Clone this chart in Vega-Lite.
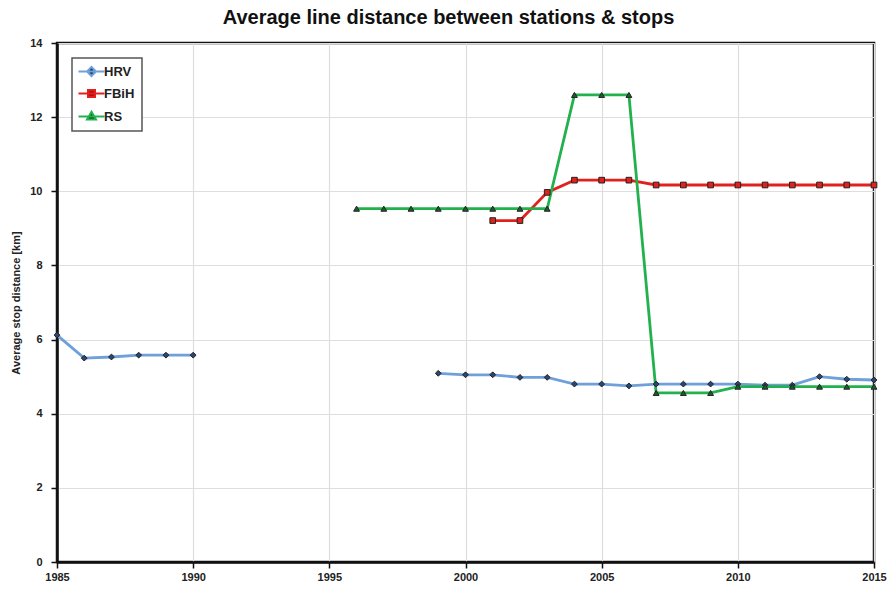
{
  "$schema": "https://vega.github.io/schema/vega-lite/v6.json",
  "width": 817,
  "height": 519,
  "autosize": {"type": "none"},
  "padding": {"left": 57, "top": 43, "right": 19, "bottom": 28},
  "background": "white",
  "title": {
    "text": "Average line distance between stations & stops",
    "font": "Liberation Sans",
    "fontSize": 20,
    "fontWeight": "bold",
    "color": "#111",
    "offset": 9,
    "anchor": "middle",
    "frame": "bounds"
  },
  "config": {
    "view": {"stroke": "#111", "strokeWidth": 2.5},
    "axis": {
      "labelFont": "Liberation Sans",
      "labelFontWeight": "bold",
      "labelFontSize": 11,
      "labelColor": "#222",
      "labelFlush": false,
      "titleFont": "Liberation Sans",
      "titleFontWeight": "bold",
      "titleFontSize": 11,
      "titleColor": "#222",
      "domainColor": "#111",
      "domainWidth": 2.5,
      "tickColor": "#111",
      "tickSize": 6,
      "tickWidth": 1.5,
      "gridColor": "#dedede",
      "gridWidth": 1.2
    }
  },
  "data": {
    "values": [
      {"year": 1985, "series": "HRV", "seg": "a", "value": 6.12},
      {"year": 1986, "series": "HRV", "seg": "a", "value": 5.5},
      {"year": 1987, "series": "HRV", "seg": "a", "value": 5.53},
      {"year": 1988, "series": "HRV", "seg": "a", "value": 5.58},
      {"year": 1989, "series": "HRV", "seg": "a", "value": 5.58},
      {"year": 1990, "series": "HRV", "seg": "a", "value": 5.58},
      {"year": 1999, "series": "HRV", "seg": "b", "value": 5.09},
      {"year": 2000, "series": "HRV", "seg": "b", "value": 5.05},
      {"year": 2001, "series": "HRV", "seg": "b", "value": 5.05},
      {"year": 2002, "series": "HRV", "seg": "b", "value": 4.98},
      {"year": 2003, "series": "HRV", "seg": "b", "value": 4.98},
      {"year": 2004, "series": "HRV", "seg": "b", "value": 4.8},
      {"year": 2005, "series": "HRV", "seg": "b", "value": 4.8},
      {"year": 2006, "series": "HRV", "seg": "b", "value": 4.75},
      {"year": 2007, "series": "HRV", "seg": "b", "value": 4.8},
      {"year": 2008, "series": "HRV", "seg": "b", "value": 4.8},
      {"year": 2009, "series": "HRV", "seg": "b", "value": 4.8},
      {"year": 2010, "series": "HRV", "seg": "b", "value": 4.8},
      {"year": 2011, "series": "HRV", "seg": "b", "value": 4.77},
      {"year": 2012, "series": "HRV", "seg": "b", "value": 4.77},
      {"year": 2013, "series": "HRV", "seg": "b", "value": 5.0},
      {"year": 2014, "series": "HRV", "seg": "b", "value": 4.93},
      {"year": 2015, "series": "HRV", "seg": "b", "value": 4.91},
      {"year": 2001, "series": "FBiH", "seg": "a", "value": 9.21},
      {"year": 2002, "series": "FBiH", "seg": "a", "value": 9.21},
      {"year": 2003, "series": "FBiH", "seg": "a", "value": 9.97},
      {"year": 2004, "series": "FBiH", "seg": "a", "value": 10.3},
      {"year": 2005, "series": "FBiH", "seg": "a", "value": 10.3},
      {"year": 2006, "series": "FBiH", "seg": "a", "value": 10.3},
      {"year": 2007, "series": "FBiH", "seg": "a", "value": 10.17},
      {"year": 2008, "series": "FBiH", "seg": "a", "value": 10.17},
      {"year": 2009, "series": "FBiH", "seg": "a", "value": 10.17},
      {"year": 2010, "series": "FBiH", "seg": "a", "value": 10.17},
      {"year": 2011, "series": "FBiH", "seg": "a", "value": 10.17},
      {"year": 2012, "series": "FBiH", "seg": "a", "value": 10.17},
      {"year": 2013, "series": "FBiH", "seg": "a", "value": 10.17},
      {"year": 2014, "series": "FBiH", "seg": "a", "value": 10.17},
      {"year": 2015, "series": "FBiH", "seg": "a", "value": 10.17},
      {"year": 1996, "series": "RS", "seg": "a", "value": 9.53},
      {"year": 1997, "series": "RS", "seg": "a", "value": 9.53},
      {"year": 1998, "series": "RS", "seg": "a", "value": 9.53},
      {"year": 1999, "series": "RS", "seg": "a", "value": 9.53},
      {"year": 2000, "series": "RS", "seg": "a", "value": 9.53},
      {"year": 2001, "series": "RS", "seg": "a", "value": 9.53},
      {"year": 2002, "series": "RS", "seg": "a", "value": 9.53},
      {"year": 2003, "series": "RS", "seg": "a", "value": 9.53},
      {"year": 2004, "series": "RS", "seg": "a", "value": 12.6},
      {"year": 2005, "series": "RS", "seg": "a", "value": 12.6},
      {"year": 2006, "series": "RS", "seg": "a", "value": 12.6},
      {"year": 2007, "series": "RS", "seg": "a", "value": 4.56},
      {"year": 2008, "series": "RS", "seg": "a", "value": 4.56},
      {"year": 2009, "series": "RS", "seg": "a", "value": 4.56},
      {"year": 2010, "series": "RS", "seg": "a", "value": 4.73},
      {"year": 2011, "series": "RS", "seg": "a", "value": 4.73},
      {"year": 2012, "series": "RS", "seg": "a", "value": 4.73},
      {"year": 2013, "series": "RS", "seg": "a", "value": 4.73},
      {"year": 2014, "series": "RS", "seg": "a", "value": 4.73},
      {"year": 2015, "series": "RS", "seg": "a", "value": 4.73}
    ]
  },
  "encoding": {
    "x": {
      "field": "year",
      "type": "quantitative",
      "scale": {"domain": [1985, 2015], "nice": false, "zero": false},
      "axis": {"title": null, "values": [1985, 1990, 1995, 2000, 2005, 2010, 2015], "format": "d", "labelPadding": 3}
    },
    "y": {
      "field": "value",
      "type": "quantitative",
      "scale": {"domain": [0, 14], "nice": false},
      "axis": {"title": "Average stop distance [km]", "values": [0, 2, 4, 6, 8, 10, 12, 14], "titlePadding": 8, "labelPadding": 9}
    }
  },
  "layer": [
    {
      "mark": {"type": "line", "strokeWidth": 2.8},
      "encoding": {
        "color": {
          "field": "series",
          "type": "nominal",
          "scale": {"domain": ["HRV", "FBiH", "RS"], "range": ["#6fa0da", "#e3211c", "#22b14c"]},
          "legend": {
            "title": null,
            "orient": "none",
            "legendX": 15,
            "legendY": 15,
            "padding": 7,
            "strokeColor": "#555",
            "fillColor": "white",
            "labelFont": "Liberation Sans",
            "labelFontWeight": "bold",
            "labelFontSize": 13,
            "labelColor": "#222",
            "rowPadding": 6,
            "symbolSize": 100,
            "symbolOffset": 6,
            "labelOffset": 6,
            "encode": {
              "legend": {"update": {"strokeWidth": {"value": 1.5}}},
              "symbols": {
                "update": {
                  "shape": {"signal": "datum.value === 'HRV' ? 'M-2.6,0H2.6M0,-0.9L0.9,0L0,0.9L-0.9,0Z' : datum.value === 'FBiH' ? 'M-2.6,0H2.6M-0.7,-0.7H0.7V0.7H-0.7Z' : 'M-2.6,0H2.6M0,-0.95L0.9,0.6H-0.9Z'"},
                  "stroke": {"signal": "scale('color', datum.value)"},
                  "strokeWidth": {"value": 2},
                  "fill": {"signal": "datum.value === 'HRV' ? '#1f3558' : datum.value === 'FBiH' ? '#b01010' : '#14401f'"},
                  "opacity": {"value": 1}
                }
              }
            }
          }
        },
        "detail": {"field": "seg", "type": "nominal"}
      }
    },
    {
      "transform": [{"filter": "datum.series === 'HRV'"}],
      "mark": {"type": "point", "shape": "diamond", "filled": true, "size": 34, "fill": "#2c4670", "stroke": "#222", "strokeWidth": 1, "opacity": 1}
    },
    {
      "transform": [{"filter": "datum.series === 'FBiH'"}],
      "mark": {"type": "point", "shape": "square", "filled": true, "size": 32, "fill": "#e3211c", "stroke": "#222", "strokeWidth": 1, "opacity": 1}
    },
    {
      "transform": [{"filter": "datum.series === 'RS'"}],
      "mark": {"type": "point", "shape": "triangle-up", "filled": true, "size": 34, "fill": "#1d5e30", "stroke": "#222", "strokeWidth": 1, "opacity": 1}
    }
  ]
}
